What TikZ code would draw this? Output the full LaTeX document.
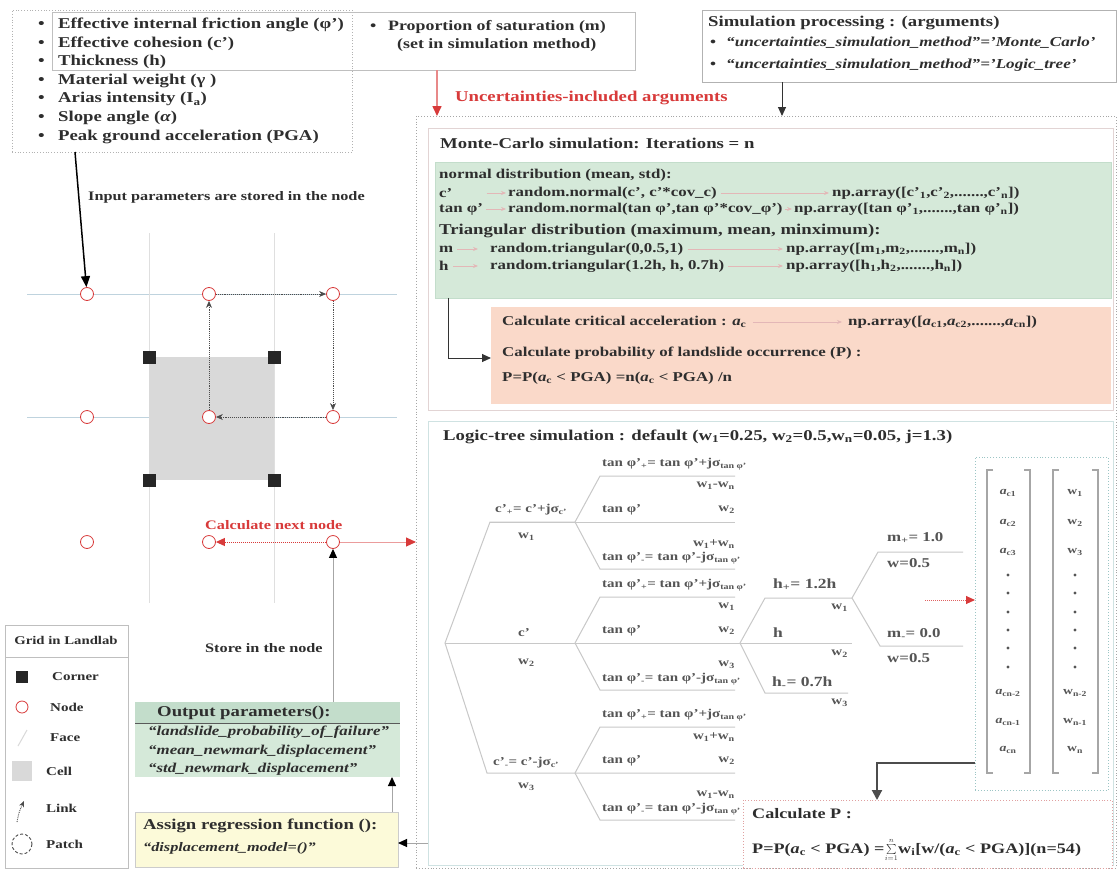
\documentclass[tikz,border=0pt]{standalone}
\usepackage{fontspec}
\setmainfont{Liberation Serif}[FakeStretch=1.25]
\usetikzlibrary{arrows.meta,fit}
\newcommand\sub[1]{\textsubscript{#1}}
\newcommand\fsz[1]{\fontsize{#1}{#1}\selectfont\bfseries}
\newcommand\fsA{\fsz{15}}
\newcommand\fsI{\fontsize{13.7}{15}\selectfont\bfseries\itshape}
\newcommand\fsB{\fsz{12}}
\newcommand\fsC{\fsz{13}}
\newcommand\fsS{\fsz{11}}
\definecolor{txt}{HTML}{2E2E2E}
\definecolor{redA}{HTML}{D83A3A}
\definecolor{grn}{HTML}{D5E9D9}
\definecolor{grnhead}{HTML}{C3DDCB}
\definecolor{org}{HTML}{FAD9C9}
\definecolor{yel}{HTML}{FCFAD9}
\definecolor{gridl}{HTML}{BFD3DE}
\definecolor{cellc}{HTML}{D9D9D9}
\definecolor{treec}{HTML}{C8C8C8}
\definecolor{treet}{HTML}{555555}
\definecolor{pinkarr}{HTML}{E3B7B7}
\definecolor{tealA}{HTML}{9CC5C5}
\definecolor{mcbord}{HTML}{E2D4D4}
\definecolor{ltbord}{HTML}{CFE2E2}
\definecolor{pinkbord}{HTML}{E0A0A0}
\begin{document}
\begin{tikzpicture}[x=1pt,y=-1pt,
  xtxt/.style={anchor=west,inner sep=0pt,font=\fsA,text=txt},
  xg/.style={anchor=west,inner sep=0pt,font=\fsz{13.5},text=txt},
  xit/.style={anchor=west,inner sep=0pt,font=\fsI,text=txt},
  xsm/.style={anchor=west,inner sep=0pt,font=\fsC,text=txt},
  xtree/.style={anchor=west,inner sep=0pt,font=\fsB,text=treet},
  xtreer/.style={anchor=east,inner sep=0pt,font=\fsB,text=treet},
  xh/.style={anchor=west,inner sep=0pt,font=\fsz{14},text=treet},
  xm/.style={anchor=west,inner sep=0pt,font=\fsz{13.5},text=treet},
  xent/.style={inner sep=0pt,font=\fsS,text=treet},
  xfit/.style={inner sep=0pt,outer sep=0pt},
  brl/.style={draw=treec,line width=1pt},
  ndc/.style={circle,draw=redA,fill=white,line width=0.8pt,minimum size=13pt,inner sep=0pt},
  cnr/.style={rectangle,fill=black!85,minimum size=13pt,inner sep=0pt},
  lnk/.style={densely dotted,draw=black!70,line width=0.9pt,-{Stealth[length=7pt,width=6pt]}},
  sarr/.style={draw=pinkarr,line width=0.8pt,-{Stealth[length=5pt,width=4pt]}},
  blk/.style={draw=gray!70,line width=1pt,-{Triangle[length=9pt,width=8pt,color=black]}},
]
\useasboundingbox (0,0) rectangle (1118,870);
\fill[white] (0,0) rectangle (1118,870);

% ---------- top boxes ----------
\node[xfit,fit={(12,10)(352,152)},draw=gray!60,dotted,line width=0.8pt] (inbox) {};
\node[xfit,fit={(52,12)(635,70)},draw=gray!50,line width=0.6pt] (propbox) {};
\node[xfit,fit={(702,10)(1116,82)},draw=gray!60,line width=1pt] (simbox) {};

\node[xtxt] (i1) at (38,25) {\makebox[20pt][l]{\textbullet}Effective internal friction angle (φ')};
\node[xtxt] (i2) at (38,43.6) {\makebox[20pt][l]{\textbullet}Effective cohesion (c')};
\node[xtxt] (i3) at (38,62.2) {\makebox[20pt][l]{\textbullet}Thickness (h)};
\node[xtxt] (i4) at (38,80.8) {\makebox[20pt][l]{\textbullet}Material weight (γ )};
\node[xtxt] (i5) at (38,99.4) {\makebox[20pt][l]{\textbullet}Arias intensity (I\sub{a})};
\node[xtxt] (i6) at (38,118) {\makebox[20pt][l]{\textbullet}Slope angle (\textit{α})};
\node[xtxt] (i7) at (38,136.6) {\makebox[20pt][l]{\textbullet}Peak ground acceleration (PGA)};

\node[xtxt,font=\fsz{14.3}] (p1) at (370,27) {\makebox[18pt][l]{\textbullet}Proportion of saturation (m)};
\node[xtxt,font=\fsz{14.3}] (p2) at (397,45) {(set in simulation method)};

\node[xtxt] (s0) at (708,23) {Simulation processing : (arguments)};
\node[xit] (s1) at (710,43) {\makebox[16pt][l]{\upshape\textbullet}“uncertainties\_simulation\_method”='Monte\_Carlo'};
\node[xit] (s2) at (710,65) {\makebox[16pt][l]{\upshape\textbullet}“uncertainties\_simulation\_method”='Logic\_tree'};

% ---------- right big area ----------
\node[xfit,fit={(416,116)(1116,868)},draw=gray!70,dotted,line width=0.9pt] (outer) {};
\node[xfit,fit={(428,128)(1113,410)},draw=mcbord,line width=0.8pt] (mcbox) {};
\node[xfit,fit={(435,162)(1111,298)},fill=grn,draw=grnhead,line width=0.8pt] (green) {};
\node[xfit,fit={(491,307)(1111,404)},fill=org] (orange) {};
\node[xfit,fit={(428,421)(1113,865)},draw=ltbord,line width=1pt] (ltbox) {};

\draw[draw=redA!60,line width=1.6pt,-{Triangle[length=10pt,width=9pt,color=redA]}] (437,0 |- propbox.south) -- (437,0 |- outer.north);
\node[xtxt,text=redA] (unc) at (455,98) {Uncertainties-included arguments};
\draw[draw=black!80,line width=1pt,-{Triangle[length=9pt,width=8pt]}] (782,0 |- simbox.south) -- (782,0 |- outer.north);

\node[xtxt] (mct) at (440,143) {Monte-Carlo simulation: Iterations = n};
\node[xg] (nd0) at (439,175) {normal distribution (mean, std):};
\node[xg] (c1) at (439,193) {c'};
\node[xg] (c2) at (508,193) {random.normal(c', c'*cov\_c)};
\node[xg] (c3) at (832,193) {np.array([c'\sub{1},c'\sub{2},.......,c'\sub{n}])};
\node[xg] (t1) at (439,209) {tan φ'};
\node[xg] (t2) at (508,209) {random.normal(tan φ',tan φ'*cov\_φ')};
\node[xg] (t3) at (794,209) {np.array([tan φ'\sub{1},.......,tan φ'\sub{n}])};
\node[xtxt] (tr0) at (439,231) {Triangular distribution (maximum, mean, minximum):};
\node[xg] (m1) at (439,249) {m};
\node[xg] (m2) at (490,249) {random.triangular(0,0.5,1)};
\node[xg] (m3) at (786,249) {np.array([m\sub{1},m\sub{2},.......,m\sub{n}])};
\node[xg] (h1) at (439,266) {h};
\node[xg] (h2) at (490,266) {random.triangular(1.2h, h, 0.7h)};
\node[xg] (h3) at (786,266) {np.array([h\sub{1},h\sub{2},.......,h\sub{n}])};
\foreach \a/\b/\s/\e in {c1/c2/34/2,c2/c3/4/3,t1/t2/3/2,t2/t3/2/2,m1/m2/4/12,m2/m3/4/3,h1/h2/4/12,h2/h3/4/3}
  \draw[sarr,shorten <=\s pt,shorten >=\e pt] (\a.east) -- (\b.west);

\draw[draw=black!80,line width=1pt,-{Triangle[length=9pt,width=8pt]}] (448,0 |- green.south) |- (orange.west |- 0,358);
\node[xg] (oc1) at (502,322) {Calculate critical acceleration : \textit{a}\sub{c}};
\node[xg] (oc2) at (848,322) {np.array([\textit{a}\sub{c1},\textit{a}\sub{c2},.......,\textit{a}\sub{cn}])};
\draw[sarr,shorten <=6pt,shorten >=6pt] (oc1.east) -- (oc2.west);
\node[xg] (op1) at (502,353) {Calculate probability of landslide occurrence (P) :};
\node[xg] (op2) at (502,378) {P=P(\textit{a}\sub{c} < PGA) =n(\textit{a}\sub{c} < PGA) /n};

% ---------- logic tree ----------
\node[xtxt] (ltt) at (443,437) {Logic-tree simulation : default (w\sub{1}=0.25, w\sub{2}=0.5,w\sub{n}=0.05, j=1.3)};
\coordinate (R) at (445,643);
\draw[brl] (575,522) -- (490,522) -- (R) -- (487,773) -- (735,773);
\draw[brl] (490,522) -- (735,522);
\draw[brl] (R) -- (852,643);
\node[xtree] (ca) at (495,510) {c'\sub{+}= c'+jσ\sub{c'}};
\node[xtree] (wa) at (518,537) {w\sub{1}};
\node[xtree] (cb) at (518,633) {c'};
\node[xtree] (wb) at (518,663) {w\sub{2}};
\node[xtree] (cc) at (493,763) {c'\sub{-}= c'-jσ\sub{c'}};
\node[xtree] (wc) at (518,787) {w\sub{3}};
\foreach \y/\wa/\wb/\wc/\g in {522/{w\sub{1}-w\sub{n}}/{w\sub{2}}/{w\sub{1}+w\sub{n}}/a,
    643/{w\sub{1}}/{w\sub{2}}/{w\sub{3}}/b,
    773/{w\sub{1}+w\sub{n}}/{w\sub{2}}/{w\sub{1}-w\sub{n}}/c}{
  \draw[brl] (575,\y) -- (600,\y-46) -- (735,\y-46);
  \draw[brl] (575,\y) -- (600,\y+47) -- (735,\y+47);
  \node[xtree] (tt\g) at (602,\y-58) {tan φ'\sub{+}= tan φ'+jσ\sub{tan φ'}};
  \node[xtreer] (tw1\g) at (735,\y-36) {\wa};
  \node[xtree] (tm\g) at (602,\y-12) {tan φ'};
  \node[xtreer] (tw2\g) at (735,\y-12) {\wb};
  \node[xtreer] (tw3\g) at (735,\y+22) {\wc};
  \node[xtree] (tb\g) at (602,\y+36) {tan φ'\sub{-}= tan φ'-jσ\sub{tan φ'}};
}
% h branches
\draw[brl] (740,643) -- (765,598) -- (852,598);
\draw[brl] (740,643) -- (765,693) -- (848,693);
\node[xh] (hp) at (773,585) {h\sub{+}= 1.2h};
\node[xtreer] (hw1) at (848,608) {w\sub{1}};
\node[xh] (h0) at (773,633) {h};
\node[xtreer] (hw2) at (848,654) {w\sub{2}};
\node[xh] (hm) at (772,683) {h\sub{-}= 0.7h};
\node[xtreer] (hw3) at (848,703) {w\sub{3}};
% m branches
\draw[brl] (852,598) -- (878,552) -- (963,552);
\draw[brl] (852,598) -- (880,646) -- (963,646);
\node[xm] (mp) at (887,538) {m\sub{+}= 1.0};
\node[xm] (mw1) at (887,563) {w=0.5};
\node[xm] (mm) at (887,634) {m\sub{-}= 0.0};
\node[xm] (mw2) at (887,658) {w=0.5};

% matrix
\node[xfit,fit={(975,457)(1108,790)},draw=tealA,dotted,line width=0.9pt] (mbox) {};
\coordinate (rs) at (925,600);
\draw[draw=redA!80,densely dotted,line width=1pt,-{Triangle[length=9pt,width=8pt,color=redA]}] (rs) -- (mbox.west |- rs);
\foreach \xa/\xb in {987/1030,1053/1098}{
  \draw[gray!70,line width=1.2pt] (\xa+6,470) -- (\xa,470) -- (\xa,773) -- (\xa+6,773);
  \draw[gray!70,line width=1.2pt] (\xb-6,470) -- (\xb,470) -- (\xb,773) -- (\xb-6,773);
}
\foreach \y/\e/\f [count=\k] in {493/{\textit{a}\sub{c1}}/{w\sub{1}},523/{\textit{a}\sub{c2}}/{w\sub{2}},552/{\textit{a}\sub{c3}}/{w\sub{3}},
   693/{\textit{a}\sub{cn-2}}/{w\sub{n-2}},722/{\textit{a}\sub{cn-1}}/{w\sub{n-1}},750/{\textit{a}\sub{cn}}/{w\sub{n}}}{
  \node[xent] (ea\k) at (1008,\y) {\e};
  \node[xent] (eb\k) at (1075,\y) {\f};
}
\foreach \y [count=\k] in {575,593,612,630,648,667}{
  \fill[treet] (1008,\y) circle (1.6) (1075,\y) circle (1.6);
}
\node[xfit,fit={(743,800)(1112,868)},draw=pinkbord,dotted,line width=0.9pt,fill=white] (cpbox) {};
\draw[draw=gray!60!black,line width=2pt,-{Triangle[length=10pt,width=10pt]}] (mbox.west |- 0,763) -| (877,0 |- cpbox.north);
\node[xtxt,font=\fsz{14.5}] (cp1) at (752,814) {Calculate P :};
\node[xtxt,font=\fsz{14.5}] (cp2a) at (752,850) {P=P(\textit{a}\sub{c} < PGA) =};
\node[inner sep=0pt,anchor=west,text=txt] (cp2s) at (cp2a.east) {$\sum\limits_{i=1}^{n}$};
\node[xtxt,font=\fsz{14.5}] (cp2b) at (cp2s.east) {w\sub{i}[w/(\textit{a}\sub{c} < PGA)](n=54)};

% ---------- grid ----------
\draw[gridl,line width=1pt] (27,294) -- (397,294) (27,417) -- (397,417);
\draw[gray!25,line width=1pt] (149,233) -- (149,603) (274,233) -- (274,603);
\fill[cellc] (149,357) rectangle (274,480);
\node[cnr] (k1) at (149,357) {};
\node[cnr] (k2) at (274,357) {};
\node[cnr] (k3) at (149,480) {};
\node[cnr] (k4) at (274,480) {};
\foreach \r/\y in {1/294,2/417,3/542}
  \foreach \c/\x in {1/87,2/209,3/333}
    \node[ndc] (n\r\c) at (\x,\y) {};
\draw[lnk] (n12) -- (n13);
\draw[lnk] (n13) -- (n23);
\draw[lnk] (n23) -- (n22);
\draw[lnk] (n22) -- (n12);
\draw[draw=black,line width=1.5pt,-{Triangle[length=11pt,width=9pt]}] (75,0 |- inbox.south) -- (n11);
\node[xsm] (inp) at (88,197) {Input parameters are stored in the node};
\node[xsm,text=redA] (cnn) at (205,525) {Calculate next node};
\draw[draw=redA,densely dotted,line width=1pt,-{Triangle[length=9pt,width=8pt]}] (n33) -- (n32);
\draw[draw=redA!50,line width=1pt,-{Triangle[length=10pt,width=9pt,color=redA]}] (n33) -- (outer.west |- n33);

% output / assign
\node[xfit,fit={(135,702)(400,777)},fill=grn] (outbox) {};
\node[xfit,fit={(135,702)(400,723)},fill=grnhead] (outhead) {};
\draw[gray!70!black,line width=1pt] (outhead.south west) -- (outhead.south east);
\draw[blk] (333,0 |- outbox.north) -- (n33);
\node[xsm] (stn) at (205,648) {Store in the node};
\node[xtxt] (oh) at (157,713) {Output parameters():};
\node[xit,font=\fontsize{13.5}{15}\selectfont\bfseries\itshape] (o1) at (148,732) {“landslide\_probability\_of\_failure”};
\node[xit,font=\fontsize{13.5}{15}\selectfont\bfseries\itshape] (o2) at (148,751) {“mean\_newmark\_displacement”};
\node[xit,font=\fontsize{13.5}{15}\selectfont\bfseries\itshape] (o3) at (148,769) {“std\_newmark\_displacement”};
\node[xfit,fit={(135,812)(398,867)},fill=yel,draw=gray!40] (asbox) {};
\node[xtxt] (as1) at (143,826) {Assign regression function ():};
\node[xit,font=\fontsize{13}{15}\selectfont\bfseries\itshape] (as2) at (143,848) {“displacement\_model=()”};
\draw[blk] (392,0 |- asbox.north) -- (392,0 |- outbox.south);
\draw[blk] (ltbox.west |- 0,843) -- (asbox.east |- 0,843);

% legend
\node[xfit,fit={(5,625)(128,868)},draw=gray!50,line width=0.6pt] (legbox) {};
\node[inner sep=0pt,font=\fsz{11.8},text=txt] (legt) at (66,640) {Grid in Landlab};
\draw[gray!50,line width=0.6pt] (legbox.west |- 0,657) -- (legbox.east |- 0,657);
\node[cnr,minimum size=12pt] (lg1) at (22,677) {};
\node[ndc,minimum size=12pt] (lg2) at (22,707) {};
\draw[gray!30,line width=1pt] (18,746) -- (27,730);
\fill[cellc] (12,761) rectangle (32,781);
\draw[densely dotted,black!70,line width=0.9pt,-{Stealth[length=6pt,width=5pt]}] (17,822) .. controls (19,812) .. (24,801);
\draw[densely dashed,black!70,line width=0.9pt] (22,844) circle (10);
\node[xsm,font=\fsz{12}] (lc) at (52,677) {Corner};
\node[xsm,font=\fsz{12}] (ln) at (50,707) {Node};
\node[xsm,font=\fsz{12}] (lf) at (50,738) {Face};
\node[xsm,font=\fsz{12}] (lce) at (46,771) {Cell};
\node[xsm,font=\fsz{12}] (ll) at (46,808) {Link};
\node[xsm,font=\fsz{12}] (lp) at (46,844) {Patch};
\end{tikzpicture}
\end{document}
